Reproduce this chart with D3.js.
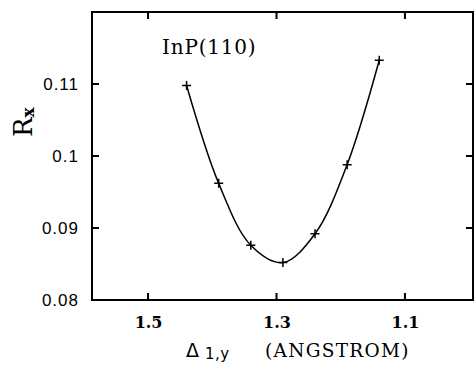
<!DOCTYPE html>
<html><head><meta charset="utf-8">
<script src="https://cdn.jsdelivr.net/npm/d3@7"></script>
<style>body{margin:0;background:#fff}svg{display:block}</style>
</head><body>
<script>
const xValues = [1.44, 1.39, 1.34, 1.29, 1.24, 1.19, 1.14];
const rValues = [0.1098, 0.0962, 0.0876, 0.0852, 0.0892, 0.0988, 0.1133];
const xTicks = [1.5, 1.3, 1.1];
const xTickLabels = ["1.5", "1.3", "1.1"];
const yTicks = [0.08, 0.09, 0.10, 0.11];
const yTickLabels = ["0.08", "0.09", "0.1", "0.11"];
const label = "InP(110)";

const W = 474, H = 367;
const svg = d3.select("body").append("svg").attr("width", W).attr("height", H);
const pL = 92, pR = 473, pT = 12, pB = 300;
const x = d3.scaleLinear().domain([1.5 + (148 - pL) / 641.7, 1.1 - (pR - 405) / 641.7]).range([pL, pR]);
const y = d3.scaleLinear().domain([0.08, 0.12]).range([pB, pT]);

// frame
svg.append("rect").attr("x", pL).attr("y", pT).attr("width", pR - pL).attr("height", pB - pT)
  .attr("fill", "none").attr("stroke", "#000").attr("stroke-width", 2);

const tl = 7;
const g = svg.append("g").attr("stroke", "#000").attr("stroke-width", 2);
xTicks.forEach(t => {
  g.append("line").attr("x1", x(t)).attr("x2", x(t)).attr("y1", pB).attr("y2", pB - tl);
  g.append("line").attr("x1", x(t)).attr("x2", x(t)).attr("y1", pT).attr("y2", pT + tl);
});
yTicks.forEach(t => {
  g.append("line").attr("x1", pL).attr("x2", pL + tl).attr("y1", y(t)).attr("y2", y(t));
  g.append("line").attr("x1", pR).attr("x2", pR - tl).attr("y1", y(t)).attr("y2", y(t));
});

xTicks.forEach((t, i) => {
  svg.append("text").attr("x", x(t) + 0.5).attr("y", 328).attr("text-anchor", "middle")
    .attr("font-family", "DejaVu Serif").attr("font-size", 16).attr("font-weight", 600).text(xTickLabels[i]);
});
yTicks.forEach((t, i) => {
  svg.append("text").attr("x", 79).attr("y", y(t) + 6).attr("text-anchor", "end")
    .attr("font-family", "Liberation Sans").attr("font-size", 17).attr("letter-spacing", 1).text(yTickLabels[i]);
});

// curve
const pts = xValues.map((v, i) => [x(v), y(rValues[i])]);
svg.append("path").attr("d", d3.line().curve(d3.curveCatmullRom.alpha(0.5))(pts))
  .attr("fill", "none").attr("stroke", "#000").attr("stroke-width", 1.5);
const c = 4.5;
pts.forEach(p => {
  svg.append("path").attr("d", `M${p[0]-c},${p[1]}H${p[0]+c}M${p[0]},${p[1]-c}V${p[1]+c}`)
    .attr("stroke", "#000").attr("stroke-width", 1.5);
});

svg.append("text").attr("x", 162).attr("y", 54).attr("font-family", "DejaVu Serif").attr("font-size", 20)
  .attr("letter-spacing", 0.8).text(label);

// axis titles
const xt = svg.append("text").attr("y", 357).attr("font-family", "DejaVu Serif").attr("font-size", 18.5);
xt.append("tspan").attr("x", 186).attr("font-family", "DejaVu Sans").attr("font-size", 19).text("Δ");
xt.append("tspan").attr("x", 205).attr("dy", 2).attr("font-family", "DejaVu Sans").attr("font-size", 15)
  .attr("letter-spacing", 0.5).text("1,y");
xt.append("tspan").attr("x", 265).attr("dy", -2).attr("letter-spacing", 1.3).text("(ANGSTROM)");

const yt = svg.append("text").attr("transform", "translate(32,137) rotate(-90)")
  .attr("font-family", "DejaVu Serif").attr("font-size", 26);
yt.append("tspan").text("R");
yt.append("tspan").attr("dy", 2).attr("font-size", 17).attr("font-weight", "bold").text("x");
</script>
</body></html>
